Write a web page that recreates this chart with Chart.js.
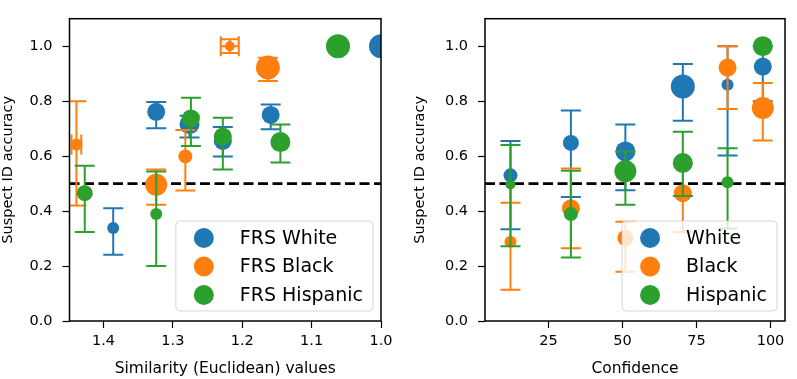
<!DOCTYPE html>
<html>
<head>
<meta charset="utf-8">
<script src="https://cdn.jsdelivr.net/npm/chart.js@4/dist/chart.umd.min.js"></script>
<style>
  body { margin: 0; background: #fff; }
  canvas { position: absolute; top: 0; }
  #simChart { left: 0; }
  #confChart { left: 398px; }
</style>
</head>
<body>
<canvas id="simChart" width="398" height="379"></canvas>
<canvas id="confChart" width="399" height="379"></canvas>
<script>
// ---- data ----
const yTicks = [0, 0.2, 0.4, 0.6, 0.8, 1.0];
const simTicks = [1.4, 1.3, 1.2, 1.1, 1.0];
const confTicks = [25, 50, 75, 100];

// left panel: similarity (euclidean), x axis reversed
const simWhiteX = [1.386, 1.324, 1.276, 1.228, 1.159, 1.0];
const simWhiteY = [0.338, 0.761, 0.716, 0.655, 0.750, 1.0];
const simWhiteLow = [0.241, 0.701, 0.668, 0.599, 0.698, 1.0];
const simWhiteHigh = [0.410, 0.797, 0.747, 0.706, 0.788, 1.0];
const simWhiteR = [6, 9, 10, 9, 9, 12];

const simBlackX = [1.439, 1.324, 1.282, 1.218, 1.163];
const simBlackY = [0.642, 0.496, 0.599, 1.0, 0.922];
const simBlackLow = [0.420, 0.423, 0.475, 0.975, 0.873];
const simBlackHigh = [0.800, 0.551, 0.695, 1.025, 0.958];
const simBlackXErr = [0.007, 0, 0, 0.013, 0];
const simBlackR = [6, 11, 7, 5, 12];

const simHispX = [1.427, 1.324, 1.274, 1.228, 1.145, 1.062];
const simHispY = [0.465, 0.389, 0.737, 0.671, 0.651, 1.0];
const simHispLow = [0.324, 0.200, 0.637, 0.551, 0.577, 1.0];
const simHispHigh = [0.565, 0.544, 0.812, 0.740, 0.715, 1.0];
const simHispR = [8, 6, 9, 9, 10, 12];

// right panel: confidence
const confX = [12.2, 32.6, 51.0, 70.4, 85.5, 97.4];

const confWhiteY = [0.530, 0.648, 0.617, 0.853, 0.860, 0.926];
const confWhiteLow = [0.334, 0.451, 0.476, 0.729, 0.602, 0.800];
const confWhiteHigh = [0.655, 0.766, 0.715, 0.935, 1.0, 1.0];
const confWhiteR = [7, 8, 10, 12, 6, 9];

const confBlackY = [0.288, 0.410, 0.302, 0.465, 0.922, 0.775];
const confBlackLow = [0.114, 0.265, 0.179, 0.324, 0.771, 0.657];
const confBlackHigh = [0.430, 0.555, 0.361, 0.574, 1.0, 0.866];
const confBlackR = [6, 9, 8, 9, 9, 11];

const confHispY = [0.497, 0.389, 0.545, 0.575, 0.505, 1.0];
const confHispLow = [0.272, 0.231, 0.423, 0.455, 0.337, 1.0];
const confHispHigh = [0.640, 0.547, 0.617, 0.689, 0.629, 1.0];
const confHispR = [5, 7, 11, 10, 6, 10];

const chanceLevel = 0.5;

// ---- styling ----
const FONT = 'DejaVu Sans';
const BLUE = '#1f77b4', ORANGE = '#ff7f0e', GREEN = '#2ca02c';
const CAP = 10;

function pts(xs, ys) { return xs.map((x, i) => ({ x: x, y: ys[i] })); }

function series(label, color, order, xs, ys, lo, hi, r, xerr) {
    return {
        label: label,
        data: pts(xs, ys),
        errLow: lo, errHigh: hi, xErr: xerr || null,
        backgroundColor: color, borderColor: color,
        pointRadius: r, pointHoverRadius: r, pointBorderWidth: 0,
        showLine: false, clip: 0, order: order
    };
}

// error bars go under each series' own markers
const errorBars = {
    id: 'errorBars',
    beforeDatasetDraw(chart, args) {
        const ds = chart.data.datasets[args.index];
        const xs = chart.scales.x, ys = chart.scales.y, a = chart.chartArea, ctx = chart.ctx;
        ctx.save();
        ctx.beginPath();
        ctx.rect(a.left, a.top, a.right - a.left, a.bottom - a.top);
        ctx.clip();
        ctx.strokeStyle = ds.borderColor;
        ctx.lineWidth = 2;
        ds.data.forEach((p, i) => {
            const px = xs.getPixelForValue(p.x), py = ys.getPixelForValue(p.y);
            const lo = ys.getPixelForValue(ds.errLow[i]), hi = ys.getPixelForValue(ds.errHigh[i]);
            ctx.beginPath();
            if (Math.abs(lo - hi) > 0.5) {
                ctx.moveTo(px, lo); ctx.lineTo(px, hi);
                ctx.moveTo(px - CAP, lo); ctx.lineTo(px + CAP, lo);
                ctx.moveTo(px - CAP, hi); ctx.lineTo(px + CAP, hi);
            }
            if (ds.xErr && ds.xErr[i]) {
                const l = xs.getPixelForValue(p.x - ds.xErr[i]), r = xs.getPixelForValue(p.x + ds.xErr[i]);
                ctx.moveTo(l, py); ctx.lineTo(r, py);
                ctx.moveTo(l, py - CAP); ctx.lineTo(l, py + CAP);
                ctx.moveTo(r, py - CAP); ctx.lineTo(r, py + CAP);
            }
            ctx.stroke();
        });
        ctx.restore();
    }
};

// dashed chance line + axes frame
const frame = {
    id: 'frame',
    beforeDatasetsDraw(chart) {
        const a = chart.chartArea, ctx = chart.ctx;
        const y = chart.scales.y.getPixelForValue(chanceLevel);
        ctx.save();
        ctx.strokeStyle = '#000';
        ctx.lineWidth = 2.8;
        ctx.setLineDash([10, 4.5]);
        ctx.beginPath();
        ctx.moveTo(a.left, y); ctx.lineTo(a.right, y);
        ctx.stroke();
        ctx.restore();
    },
    afterDatasetsDraw(chart) {
        const a = chart.chartArea, ctx = chart.ctx;
        ctx.save();
        ctx.strokeStyle = '#000';
        ctx.lineWidth = 1.5;
        ctx.strokeRect(a.left, a.top, a.right - a.left, a.bottom - a.top);
        ctx.restore();
    }
};

// matplotlib-like legend box in the lower right corner
const boxLegend = {
    id: 'boxLegend',
    afterDraw(chart) {
        const ctx = chart.ctx, a = chart.chartArea;
        ctx.save();
        ctx.font = '19px "' + FONT + '"';
        const items = chart.data.datasets.map(d => ({ text: d.label, color: d.backgroundColor }));
        const textW = Math.max(...items.map(it => ctx.measureText(it.text).width));
        const markX = 28, textX = 64, rowH = 28.5;
        const w = textX + textW + 10;
        const h = 2 * 8.5 + rowH * (items.length - 1) + 2 * 8;
        const right = a.right - 8, bottom = a.bottom - 10;
        const left = right - w, top = bottom - h;
        ctx.beginPath();
        ctx.roundRect(left, top, w, h, 4);
        ctx.fillStyle = 'rgba(255,255,255,0.8)';
        ctx.fill();
        ctx.strokeStyle = 'rgba(204,204,204,0.8)';
        ctx.lineWidth = 1;
        ctx.stroke();
        items.forEach((it, i) => {
            const cy = top + 17 + i * rowH;
            ctx.fillStyle = it.color;
            ctx.beginPath();
            ctx.arc(left + markX, cy, 10, 0, Math.PI * 2);
            ctx.fill();
            ctx.fillStyle = '#000';
            ctx.textBaseline = 'middle';
            ctx.fillText(it.text, left + textX, cy + 1);
        });
        ctx.restore();
    }
};

function makePanel(id, datasets, xOpts, yWidth, yTitlePad, padRight) {
    const tickFont = { family: FONT, size: 14.5 };
    const titleFont = { family: FONT, size: 15.5 };
    return new Chart(document.getElementById(id), {
        type: 'scatter',
        data: { datasets: datasets },
        options: {
            responsive: false,
            animation: false,
            layout: { padding: { top: 1, right: padRight, left: 0, bottom: 0 } },
            plugins: { legend: { display: false }, tooltip: { enabled: false } },
            scales: {
                x: {
                    type: 'linear',
                    min: xOpts.min, max: xOpts.max, reverse: xOpts.reverse,
                    afterBuildTicks: s => { s.ticks = xOpts.ticks.map(v => ({ value: v })); },
                    afterFit: s => { s.height = 58; },
                    ticks: { color: '#000', font: tickFont, padding: 5, maxRotation: 0, callback: xOpts.fmt },
                    grid: { display: true, drawOnChartArea: false, drawTicks: true, tickLength: 7, tickWidth: 1.2, tickColor: '#000' },
                    border: { display: false },
                    title: { display: true, text: xOpts.title, color: '#000', font: titleFont, padding: { top: 0, bottom: 1 } }
                },
                y: {
                    type: 'linear',
                    min: 0, max: 1.1,
                    afterBuildTicks: s => { s.ticks = yTicks.map(v => ({ value: v })); },
                    afterFit: s => { s.width = yWidth; },
                    ticks: { color: '#000', font: tickFont, padding: 10, callback: v => v.toFixed(1) },
                    grid: { display: true, drawOnChartArea: false, drawTicks: true, tickLength: 7, tickWidth: 1.2, tickColor: '#000' },
                    border: { display: false },
                    title: { display: true, text: 'Suspect ID accuracy', color: '#000', font: tickFont, padding: { top: yTitlePad, bottom: 0 } }
                }
            }
        },
        plugins: [errorBars, frame, boxLegend]
    });
}

makePanel('simChart', [
    series('FRS White', BLUE, 3, simWhiteX, simWhiteY, simWhiteLow, simWhiteHigh, simWhiteR),
    series('FRS Black', ORANGE, 2, simBlackX, simBlackY, simBlackLow, simBlackHigh, simBlackR, simBlackXErr),
    series('FRS Hispanic', GREEN, 1, simHispX, simHispY, simHispLow, simHispHigh, simHispR)
], { min: 1.0, max: 1.449, reverse: true, ticks: simTicks, fmt: v => v.toFixed(1), title: 'Similarity (Euclidean) values' }, 69.5, 0, 17);

makePanel('confChart', [
    series('White', BLUE, 3, confX, confWhiteY, confWhiteLow, confWhiteHigh, confWhiteR),
    series('Black', ORANGE, 2, confX, confBlackY, confBlackLow, confBlackHigh, confBlackR),
    series('Hispanic', GREEN, 1, confX, confHispY, confHispLow, confHispHigh, confHispR)
], { min: 3.6, max: 104.9, reverse: false, ticks: confTicks, fmt: v => String(v), title: 'Confidence' }, 87, 14, 4);
</script>
</body>
</html>
